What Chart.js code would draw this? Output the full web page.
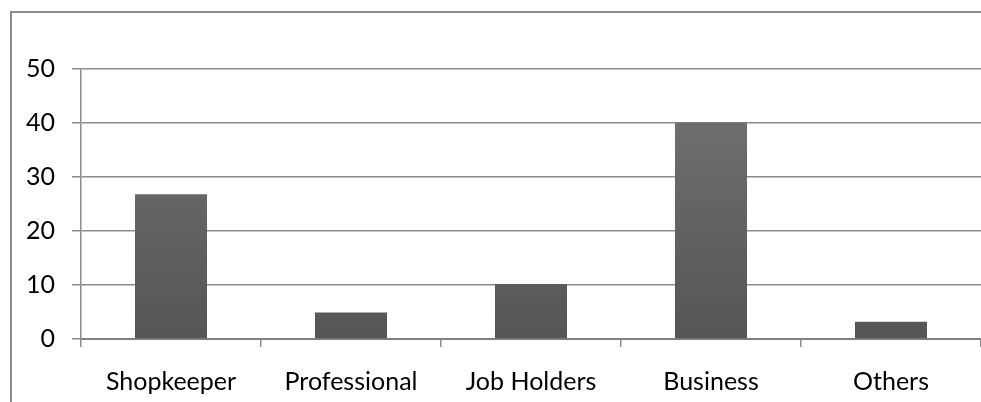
<!DOCTYPE html>
<html>
<head>
<meta charset="utf-8">
<script src="https://cdn.jsdelivr.net/npm/chart.js@4.4.0/dist/chart.umd.min.js"></script>
<style>
  html, body { margin: 0; padding: 0; background: #fff; }
  #wrap { width: 981px; height: 402px; position: relative; }
</style>
</head>
<body>
<div id="wrap"><canvas id="occChart" width="981" height="402"></canvas></div>
<script>
// occupation groups and their share
var occupations = ["Shopkeeper", "Professional", "Job Holders", "Business", "Others"];
var shares = [26.8, 4.9, 10.2, 40.1, 3.2];
var yTicks = [0, 10, 20, 30, 40, 50];

var gridGray = "#8c8c8c";

// outer frame, left and top edges only
var framePlugin = {
  id: "frame",
  beforeDraw: function (chart) {
    var c = chart.ctx;
    c.save();
    c.strokeStyle = "#8a8a8a";
    c.lineWidth = 2;
    c.beginPath();
    c.moveTo(11, 402);
    c.lineTo(11, 12);
    c.lineTo(985, 12);
    c.stroke();
    c.restore();
  }
};

function barFill(context) {
  var chart = context.chart;
  var area = chart.chartArea;
  if (!area) return "#666";
  var g = chart.ctx.createLinearGradient(0, area.top, 0, area.bottom);
  g.addColorStop(0, "#747474");
  g.addColorStop(1, "#555555");
  return g;
}

var ctx = document.getElementById("occChart");
var myChart = new Chart(ctx, {
  type: "bar",
  data: {
    labels: occupations,
    datasets: [
      {
        data: shares,
        backgroundColor: barFill,
        borderWidth: 0,
        barPercentage: 0.4,
        categoryPercentage: 1.0
      }
    ]
  },
  options: {
    responsive: false,
    animation: false,
    layout: { padding: { top: 69, left: 0, right: 0, bottom: 0 } },
    plugins: {
      legend: { display: false },
      tooltip: { enabled: false }
    },
    scales: {
      x: {
        afterFit: function (scale) { scale.height = 63; },
        grid: {
          offset: true,
          drawOnChartArea: false,
          drawTicks: true,
          tickLength: 8,
          color: gridGray,
          lineWidth: 1.5
        },
        border: { color: "#808080", width: 2 },
        ticks: {
          color: "#000",
          padding: 20,
          font: { family: "Lato", size: 25 }
        }
      },
      y: {
        min: 0,
        max: 50,
        afterFit: function (scale) { scale.width = 81; },
        afterBuildTicks: function (scale) {
          scale.ticks = yTicks.map(function (v) { return { value: v }; });
        },
        grid: {
          color: gridGray,
          lineWidth: 1.5,
          tickLength: 9
        },
        border: { color: gridGray, width: 1.5 },
        ticks: {
          color: "#000",
          padding: 17,
          font: { family: "Lato", size: 25 }
        }
      }
    }
  },
  plugins: [framePlugin]
});
</script>
</body>
</html>
